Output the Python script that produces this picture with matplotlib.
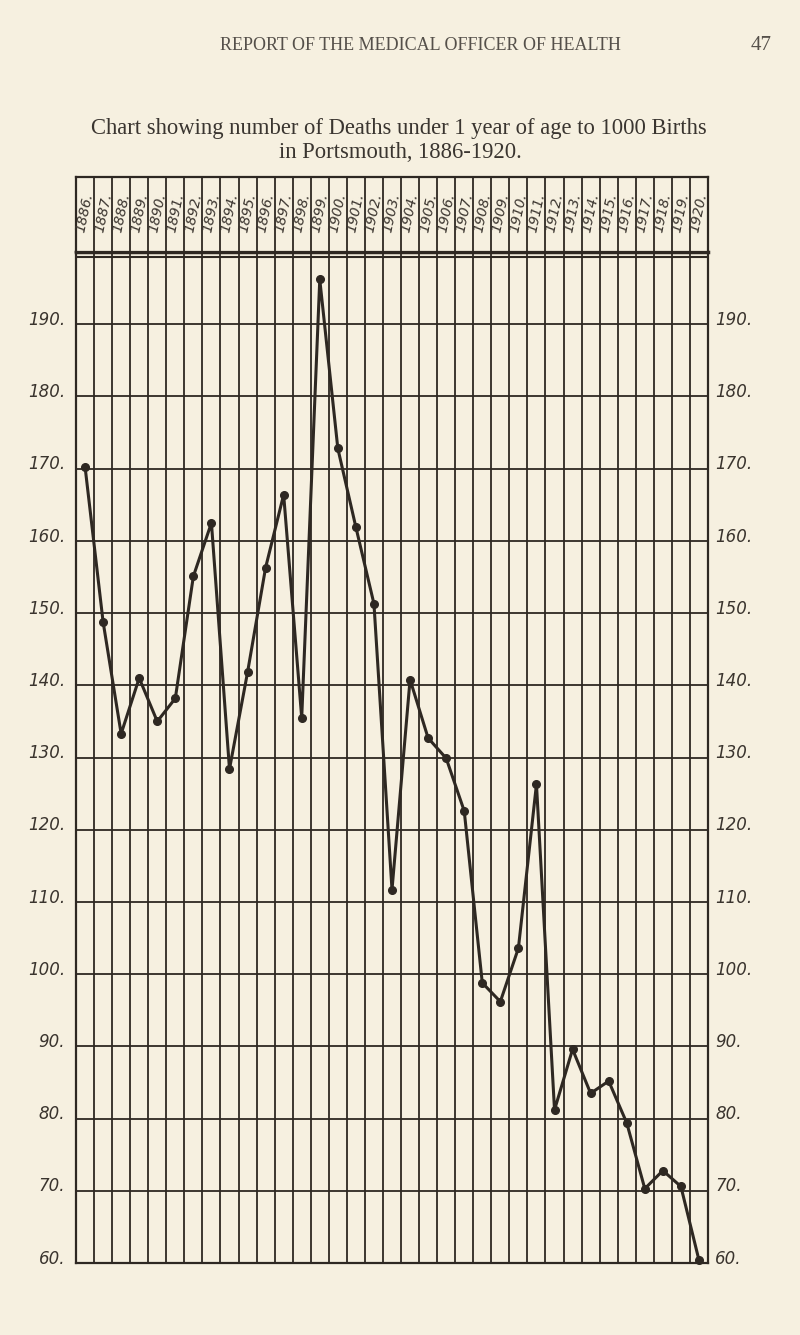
import matplotlib
matplotlib.use("Agg")
import matplotlib.pyplot as plt

# infant deaths per 1000 births, Portsmouth
years = list(range(1886, 1921))
rates = [170.3, 148.8, 133.3, 141.0, 135.0, 138.2, 155.1, 162.5, 128.4, 141.8,
         156.3, 166.4, 135.5, 196.2, 172.8, 161.9, 151.3, 111.7, 140.8, 132.7,
         129.9, 122.6, 98.8, 96.2, 103.6, 126.3, 81.2, 89.6, 83.5, 85.2,
         79.4, 70.3, 72.8, 70.6, 60.4]
y_ticks = list(range(60, 200, 10))

PAPER = "#f6f0e0"
INK = "#2e2822"

plt.rcParams['font.family'] = ['Liberation Serif', 'DejaVu Serif']

fig = plt.figure(figsize=(8, 13.35), dpi=100, facecolor=PAPER)

# page header
fig.text(0.525, 0.966, "REPORT OF THE MEDICAL OFFICER OF HEALTH", ha="center",
         va="center", fontsize=13, color="#55504a")
fig.text(0.952, 0.966, "47", ha="center", va="center", fontsize=15, color="#55504a")
fig.text(0.499, 0.904, "Chart showing number of Deaths under 1 year of age to 1000 Births",
         ha="center", va="center", fontsize=16.3, color="#3a3530")
fig.text(0.5, 0.886, "in Portsmouth, 1886-1920.", ha="center", va="center",
         fontsize=16.3, color="#3a3530")

n = len(years)
xs = [i + 0.5 for i in range(n)]

# main grid
ax = fig.add_axes([0.095, 0.0539, 0.79, 0.7573])
ax.set_facecolor(PAPER)
ax.set_xlim(0, n)
ax.set_ylim(60, 200)
for i in range(n + 1):
    ax.axvline(i, color=INK, lw=1.3, zorder=1)
for v in y_ticks:
    ax.axhline(v, color=INK, lw=1.3, zorder=1)
ax.axhline(199.3, color=INK, lw=1.5, zorder=1)
for s in ax.spines.values():
    s.set_color(INK)
    s.set_linewidth(1.6)
ax.spines['top'].set_linewidth(2.5)
ax.set_xticks([])
ax.set_yticks([])

ax.plot(xs, rates, color=INK, lw=2.2, marker="o", markersize=5.5,
        markerfacecolor=INK, markeredgecolor=INK, zorder=3, clip_on=False)

for v in y_ticks[1:] + [60]:
    lbl = f"{v}."
    ax.text(-0.6, v + 0.6, lbl, ha="right", va="center", fontsize=12, style="italic",
            color="#3a342e", family=['DejaVu Sans'])
    ax.text(n + 0.4, v + 0.6, lbl, ha="left", va="center", fontsize=12, style="italic",
            color="#3a342e", family=['DejaVu Sans'])

# header row with years
hx = fig.add_axes([0.095, 0.8112, 0.79, 0.0562])
hx.set_facecolor(PAPER)
hx.set_xlim(0, n)
hx.set_ylim(0, 1)
for i in range(n + 1):
    hx.axvline(i, color=INK, lw=1.3)
for s in hx.spines.values():
    s.set_color(INK)
    s.set_linewidth(1.6)
hx.set_xticks([])
hx.set_yticks([])
for x, yr in zip(xs, years):
    hx.text(x, 0.52, f"{yr}.", rotation=78, ha="center", va="center", fontsize=10,
            style="italic", color="#3a342e", family=['DejaVu Sans'])

fig.savefig("out.png", dpi=100, facecolor=PAPER)
